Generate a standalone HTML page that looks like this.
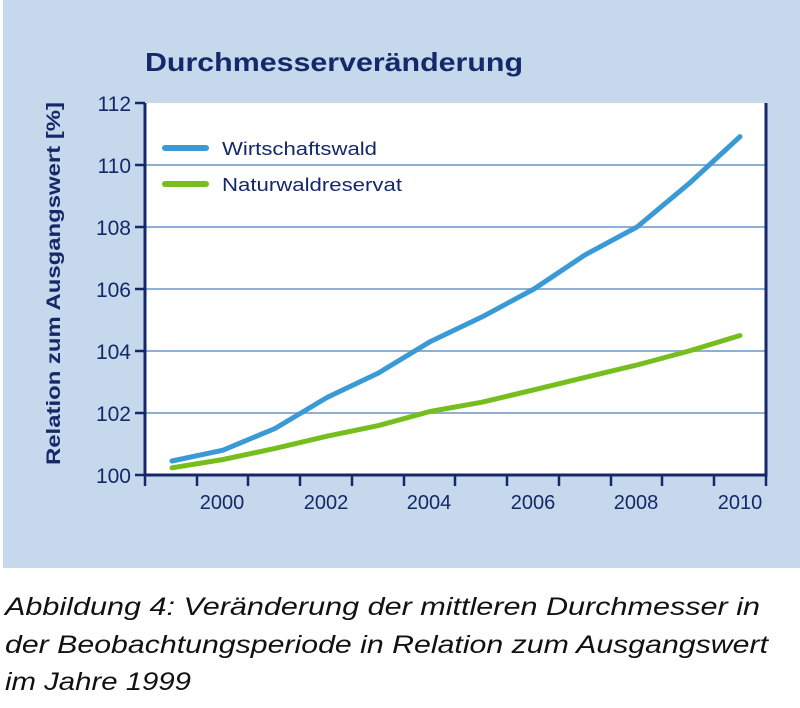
<!DOCTYPE html>
<html><head><meta charset="utf-8"><style>
html,body{margin:0;padding:0;background:#fff;}
svg{display:block;}
</style></head><body>
<svg width="800" height="708" viewBox="0 0 800 708" xmlns="http://www.w3.org/2000/svg" font-family="Liberation Sans, sans-serif">
<rect x="3" y="0" width="797" height="568" fill="#c6d8eb"/>
<rect x="145" y="103" width="621" height="372" fill="#fff"/>
<g stroke="#8eb0d6" stroke-width="2">
<line x1="145" y1="165" x2="766" y2="165"/>
<line x1="145" y1="227" x2="766" y2="227"/>
<line x1="145" y1="289" x2="766" y2="289"/>
<line x1="145" y1="351" x2="766" y2="351"/>
<line x1="145" y1="413" x2="766" y2="413"/>
</g>
<g stroke="#14286a" stroke-width="3" fill="none">
<polyline points="145,103 145,475 766,475 766,103"/>
</g>
<g stroke="#14286a" stroke-width="2.5">
<line x1="135" y1="103" x2="145" y2="103"/><line x1="135" y1="165" x2="145" y2="165"/>
<line x1="135" y1="227" x2="145" y2="227"/><line x1="135" y1="289" x2="145" y2="289"/>
<line x1="135" y1="351" x2="145" y2="351"/><line x1="135" y1="413" x2="145" y2="413"/>
<line x1="135" y1="475" x2="145" y2="475"/>
<line x1="145" y1="475" x2="145" y2="486"/><line x1="197" y1="475" x2="197" y2="486"/>
<line x1="248" y1="475" x2="248" y2="486"/><line x1="300" y1="475" x2="300" y2="486"/>
<line x1="352" y1="475" x2="352" y2="486"/><line x1="404" y1="475" x2="404" y2="486"/>
<line x1="455" y1="475" x2="455" y2="486"/><line x1="507" y1="475" x2="507" y2="486"/>
<line x1="559" y1="475" x2="559" y2="486"/><line x1="611" y1="475" x2="611" y2="486"/>
<line x1="662" y1="475" x2="662" y2="486"/><line x1="714" y1="475" x2="714" y2="486"/>
<line x1="766" y1="475" x2="766" y2="486"/>
</g>
<g fill="#14286a" font-size="21" text-anchor="end">
<text x="131" y="111">112</text><text x="131" y="173">110</text><text x="131" y="235">108</text>
<text x="131" y="297">106</text><text x="131" y="359">104</text><text x="131" y="421">102</text>
<text x="131" y="483">100</text>
</g>
<g fill="#14286a" font-size="20" text-anchor="middle">
<text x="222" y="509">2000</text><text x="326" y="509">2002</text><text x="429" y="509">2004</text>
<text x="533" y="509">2006</text><text x="636" y="509">2008</text><text x="740" y="509">2010</text>
</g>
<text x="145" y="71" font-size="26" font-weight="bold" fill="#14286a" textLength="378" lengthAdjust="spacingAndGlyphs">Durchmesserveränderung</text>
<text transform="translate(60,465) rotate(-90)" font-size="19" font-weight="bold" fill="#14286a" textLength="363" lengthAdjust="spacingAndGlyphs">Relation zum Ausgangswert [%]</text>
<line x1="165" y1="148" x2="206" y2="148" stroke="#3a9ad5" stroke-width="6" stroke-linecap="round"/>
<line x1="165" y1="184" x2="206" y2="184" stroke="#76be1e" stroke-width="6" stroke-linecap="round"/>
<text x="222" y="155" font-size="18" fill="#14286a" textLength="155" lengthAdjust="spacingAndGlyphs">Wirtschaftswald</text>
<text x="222" y="191" font-size="18" fill="#14286a" textLength="180" lengthAdjust="spacingAndGlyphs">Naturwaldreservat</text>
<polyline fill="none" stroke="#76be1e" stroke-width="5" stroke-linecap="round" stroke-linejoin="round"
points="172,467.8 223,459.5 275,448.4 327,436.2 379,425.4 430,411.5 482,402.2 534,389.8 585,377.4 637,365.0 689,351.0 740,335.5"/>
<polyline fill="none" stroke="#3a9ad5" stroke-width="5" stroke-linecap="round" stroke-linejoin="round"
points="172,461 223,450.2 275,428.5 327,397.5 379,372.7 430,341.7 482,316.9 534,289 585,254.9 637,227 689,183.6 740,136.6"/>
<g font-size="25" font-style="italic" fill="#111">
<text x="5" y="615" textLength="755" lengthAdjust="spacingAndGlyphs">Abbildung 4: Veränderung der mittleren Durchmesser in</text>
<text x="5" y="653" textLength="763" lengthAdjust="spacingAndGlyphs">der Beobachtungsperiode in Relation zum Ausgangswert</text>
<text x="5" y="690" textLength="186" lengthAdjust="spacingAndGlyphs">im Jahre 1999</text>
</g>
</svg>
</body></html>
